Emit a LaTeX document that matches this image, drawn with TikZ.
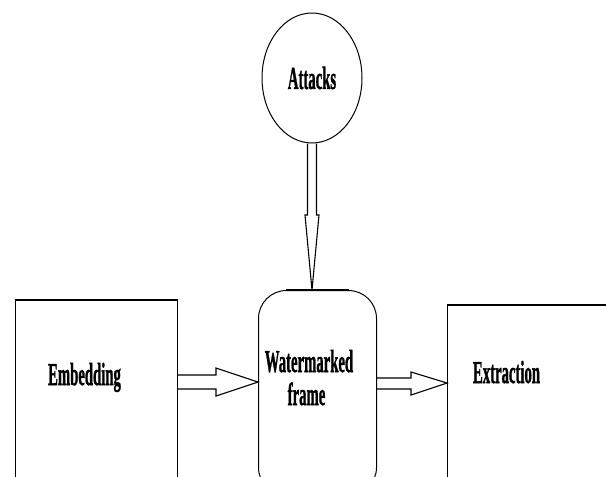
\documentclass[tikz,border=0pt]{standalone}
\usepackage{fontspec}
\setmainfont{Liberation Serif}[BoldFeatures={FakeBold=1.6}]
\usetikzlibrary{shapes.geometric,calc}
% tall, narrow bold lettering
\newcommand\condensed[1]{\scalebox{0.46}[1]{#1}}
\begin{document}
\begin{tikzpicture}[x=1pt,y=-1pt,
  block/.style={draw, line width=1pt, inner sep=0pt, anchor=north west},
  txt/.style={font=\bfseries\fontsize{32}{33}\selectfont},
  lbl/.style={txt, inner sep=0pt, anchor=base},
  hollow/.style={draw, line width=1.1pt, line join=miter},
  topedge/.style={line width=2pt}]
\useasboundingbox (0,0) rectangle (606,477);
\clip (0,0) rectangle (606,477);

% blocks (open towards the lower/right border)
\node[block, minimum width=162pt, minimum height=220pt] (emb) at (15,300) {};
\node[block, rounded corners=28pt, minimum width=118pt, minimum height=205pt] (frame) at (258,290) {};
\node[block, minimum width=180pt, minimum height=220pt] (ext) at (447,305) {};
\node[draw, ellipse, line width=1pt, minimum width=100pt, minimum height=130pt,
      inner sep=0pt, txt] (att) at (312,78) {\condensed{Attacks}};

% heavier top edges
\draw[topedge] (emb.north west) -- (emb.north east);
\draw[topedge] (ext.north west) -- (ext.north east);
\draw[topedge] ($(frame.north west)+(28,0)$) -- ($(frame.north east)+(-28,0)$);

% labels
\node[lbl] (embtxt) at (84.5,385) {\condensed{Embedding}};
\node[lbl] (wmtxt) at (309,372) {\condensed{Watermarked}};
\node[lbl] (frtxt) at (306.5,405) {\condensed{frame}};
\node[lbl] (exttxt) at (506.5,383) {\condensed{Extraction}};

% hollow block arrows
\draw[hollow] let \p1=(att.south), \p2=(frame.north) in
  (\x1-4.5pt,\y1) -- (\x1-4.5pt,\y2+75pt) -- (\x1-7pt,\y2+75pt) -- (\x1,\y2)
  -- (\x1+7pt,\y2+75pt) -- (\x1+4.5pt,\y2+75pt) -- (\x1+4.5pt,\y1);
\draw[hollow] let \p1=(emb.east), \p2=(frame.west) in
  (\x1,-375pt) -- (\x2-42pt,-375pt) -- (\x2-42pt,-368pt) -- (\x2,-382pt)
  -- (\x2-42pt,-396pt) -- (\x2-42pt,-389pt) -- (\x1,-389pt);
\draw[hollow] let \p1=(frame.east), \p2=(ext.west) in
  (\x1,-378pt) -- (\x2-36pt,-378pt) -- (\x2-36pt,-372pt) -- (\x2,-383pt)
  -- (\x2-36pt,-395pt) -- (\x2-36pt,-389pt) -- (\x1,-389pt);
\end{tikzpicture}
\end{document}
